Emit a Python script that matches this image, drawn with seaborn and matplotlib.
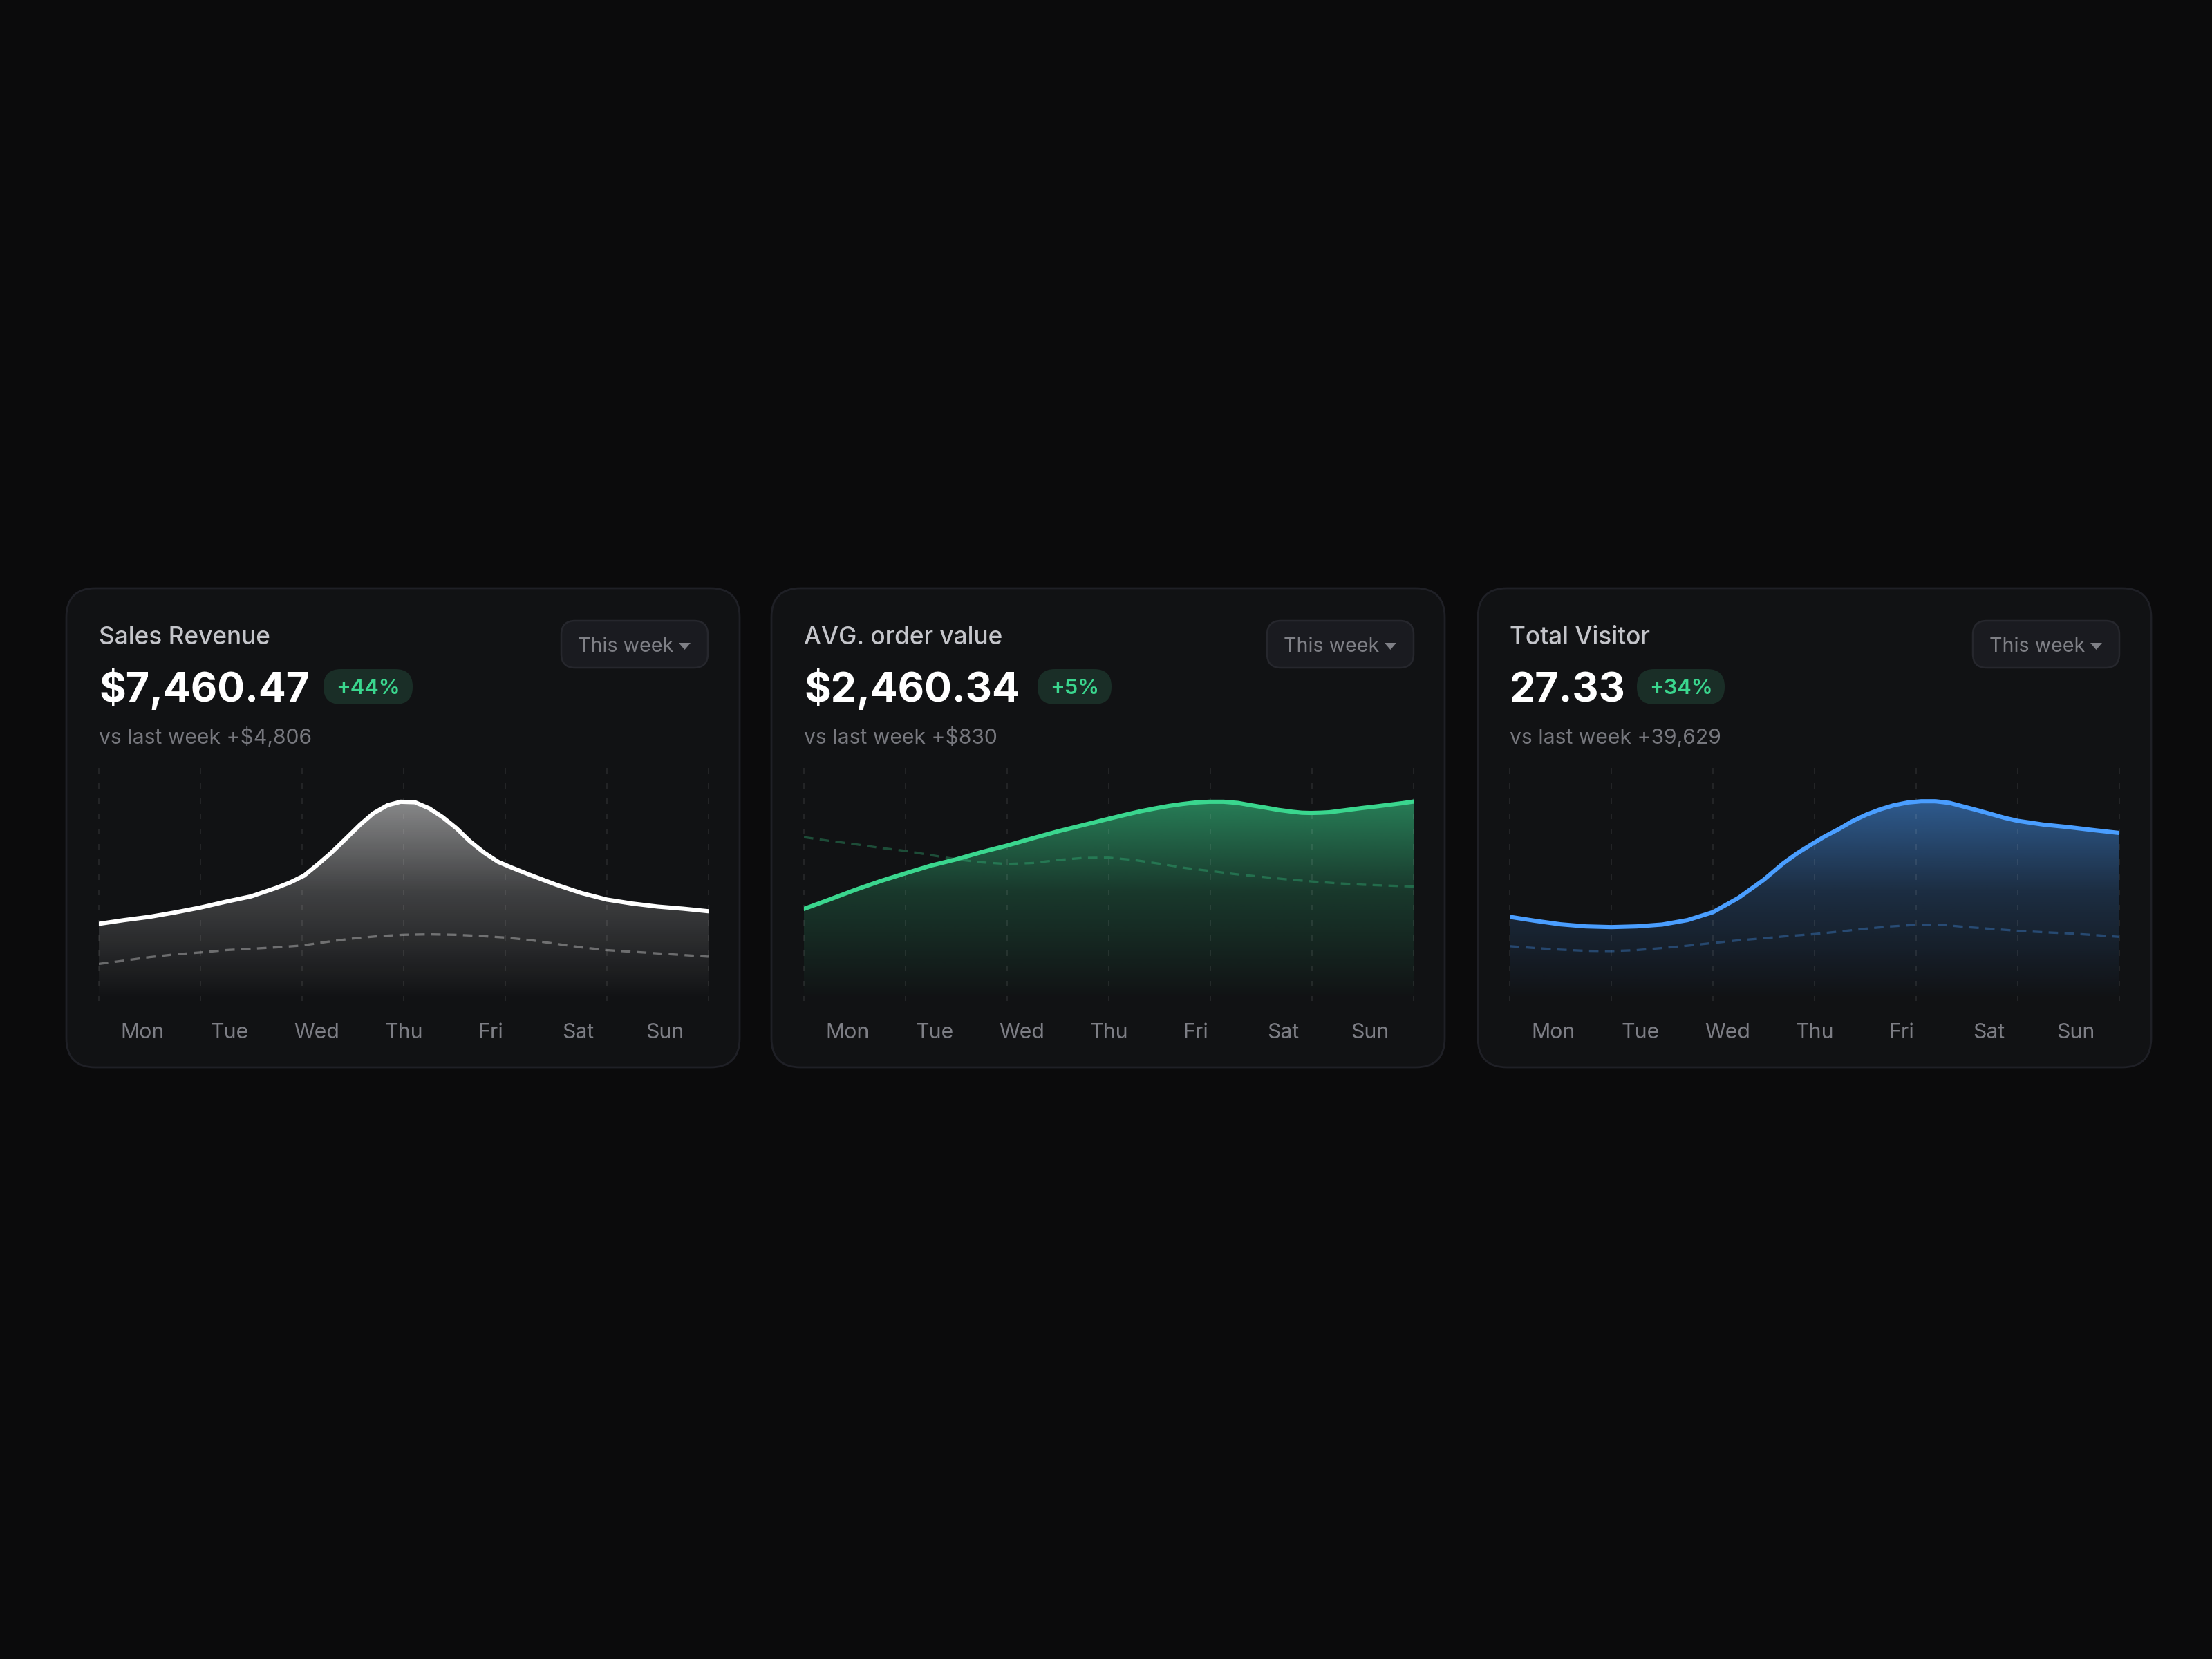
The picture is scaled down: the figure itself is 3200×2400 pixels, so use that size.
import matplotlib
matplotlib.use("Agg")
import matplotlib.pyplot as plt
from matplotlib.patches import FancyBboxPatch, Polygon
from matplotlib.colors import to_rgb
import seaborn as sns
import pandas as pd
import numpy as np

# ---------- data (chart height = 0..100, days = 0..6) ----------
days = ['Mon', 'Tue', 'Wed', 'Thu', 'Fri', 'Sat', 'Sun']
quarter_days = [0, .25, .5, .75, 1, 1.25, 1.5, 1.75, 2, 2.25, 2.5, 2.75, 3, 3.25, 3.5, 3.75,
                4, 4.25, 4.5, 4.75, 5, 5.25, 5.5, 5.75, 6]

titles = ['Sales Revenue', 'AVG. order value', 'Total Visitor']
amounts = ['$7,460.47', '$2,460.34', '27.33']
badges = ['+44%', '+5%', '+34%']
compare = ['vs last week +$4,806', 'vs last week +$830', 'vs last week +39,629']

# the solid curves were read closer together around their bends
sales_days = [0, .25, .5, .75, 1, 1.25, 1.5, 1.75, 1.88, 2.02, 2.16, 2.29, 2.43, 2.57, 2.70, 2.84,
              2.97, 3.11, 3.25, 3.38, 3.52, 3.65, 3.79, 3.93, 4.06, 4.25, 4.5, 4.75, 5, 5.25, 5.5, 5.75, 6]
sales_now = [33.1, 34.7, 36.1, 38.0, 40.1, 42.6, 44.9, 48.6, 50.8, 53.8, 58.8, 63.7, 69.6, 75.6, 80.5, 84.0,
             85.5, 85.3, 82.7, 79.0, 74.1, 68.6, 63.7, 59.7, 57.3, 54.0, 49.9, 46.3, 43.5, 41.8, 40.5, 39.6, 38.5]
sales_prev = [15.9, 17.3, 18.8, 20.0, 20.8, 21.8, 22.4, 23.0, 23.8, 25.4, 26.8, 27.8, 28.4,
              28.6, 28.4, 27.9, 27.2, 26.1, 24.5, 23.0, 21.8, 21.1, 20.4, 19.7, 19.0]

order_days = [0, .25, .5, .75, 1, 1.25, 1.5, 1.75, 2, 2.25, 2.5, 2.75, 3, 3.18, 3.31, 3.45, 3.59, 3.72,
              3.86, 3.99, 4.13, 4.27, 4.40, 4.54, 4.67, 4.81, 4.90, 4.99, 5.08, 5.17, 5.35, 5.49, 5.63, 5.76, 5.89, 6]
order_now = [39.5, 43.5, 47.6, 51.4, 54.8, 58.1, 60.8, 63.9, 66.7, 69.8, 72.8, 75.5, 78.2, 80.1, 81.4, 82.6, 83.7, 84.5,
             85.2, 85.5, 85.5, 85.0, 84.0, 83.0, 82.0, 81.2, 80.8, 80.7, 80.8, 81.0, 82.0, 82.8, 83.5, 84.2, 84.9, 85.6]
order_prev = [70.3, 68.7, 67.3, 65.7, 64.4, 62.6, 60.8, 59.5, 58.8, 59.2, 60.5, 61.4, 61.5,
              60.5, 58.9, 57.1, 55.8, 54.4, 53.3, 52.2, 51.3, 50.5, 49.9, 49.5, 49.1]

visit_days = [0, .25, .5, .75, 1, 1.25, 1.5, 1.75, 2, 2.25, 2.5, 2.69, 2.83, 2.97, 3.10, 3.24, 3.37, 3.51, 3.65,
              3.78, 3.92, 4.05, 4.19, 4.33, 4.46, 4.60, 4.74, 4.87, 5, 5.25, 5.5, 5.75, 6]
visit_now = [36.1, 34.4, 32.9, 32.0, 31.7, 32.0, 32.8, 34.7, 38.1, 44.2, 52.0, 59.0, 63.4, 67.2, 70.6, 73.8, 77.1, 80.0, 82.3,
             84.0, 85.2, 85.7, 85.7, 85.0, 83.5, 81.9, 80.2, 78.6, 77.3, 75.7, 74.6, 73.3, 72.1]
visit_prev = [23.5, 22.7, 22.0, 21.5, 21.4, 21.8, 22.7, 23.7, 24.9, 26.0, 26.9, 27.9, 28.7,
              29.8, 31.0, 32.0, 32.7, 32.7, 31.7, 30.9, 30.1, 29.5, 29.0, 28.3, 27.5]

now_days = [sales_days, order_days, visit_days]
now_series = [sales_now, order_now, visit_now]
prev_series = [sales_prev, order_prev, visit_prev]
colors = ['#ffffff', '#3ad68e', '#4a9eff']
prev_alpha = [0.33, 0.30, 0.32]
top_alpha = [0.5, 0.55, 0.52]

# ---------- style ----------
PAGE = '#0b0b0c'
CARD = '#111214'
sns.set_theme(style='dark', rc={'axes.facecolor': 'none', 'figure.facecolor': PAGE})
plt.rcParams['font.family'] = ['Inter', 'DejaVu Sans']

fig = plt.figure(figsize=(16, 12), dpi=200)

# whole-figure layer in pixels for the card furniture
bg = fig.add_axes([0, 0, 1, 1], zorder=0)
bg.set_xlim(0, 3200)
bg.set_ylim(2400, 0)
bg.axis('off')

card_left = [96, 1116, 2138]
card_w = 974
plot_left = [143, 1163, 2184]
plot_w = 882
button_left = [812, 1833, 2854]
badge_box = [(468, 597), (1501, 1608), (2368, 2495)]


def plot_card(i):
    x0 = card_left[i]
    bg.add_patch(FancyBboxPatch((x0, 851), card_w, 693, boxstyle='round,pad=0,rounding_size=42',
                                fc=CARD, ec='#1f2026', lw=1.0))
    px = plot_left[i]
    bg.text(px, 932, titles[i], color='#c4c5ca', fontsize=12.7, fontweight=500, va='baseline')
    bg.text(px, 1015, amounts[i], color='#ffffff', fontsize=21.3, fontweight='bold', va='baseline')
    bg.text(px, 1076, compare[i], color='#77787e', fontsize=10.85, va='baseline')

    # badge
    bx0, bx1 = badge_box[i]
    bg.add_patch(FancyBboxPatch((bx0, 968), bx1 - bx0, 51, boxstyle='round,pad=0,rounding_size=25',
                                fc='#1a2e27', ec='none'))
    bg.text((bx0 + bx1) / 2, 1004, badges[i], color=colors[1], fontsize=11.1, fontweight=600,
            ha='center', va='baseline')

    # dropdown
    b0 = button_left[i]
    bg.add_patch(FancyBboxPatch((b0, 898), 212, 68, boxstyle='round,pad=0,rounding_size=20',
                                fc='#1a1b20', ec='#26272d', lw=0.9))
    bg.text(b0 + 24, 943, 'This week', color='#7f8086', fontsize=10.3, va='baseline')
    bg.add_patch(Polygon([(b0 + 170, 930), (b0 + 187, 930), (b0 + 178.5, 940)], fc='#7f8086', ec='none'))

    # chart
    ax = fig.add_axes([px / 3200, 1 - 1448 / 2400, plot_w / 3200, 337 / 2400], zorder=1)
    now = np.array(now_series[i])
    df_now = pd.DataFrame({'day': now_days[i], 'value': now})
    df_prev = pd.DataFrame({'day': quarter_days, 'value': prev_series[i]})

    # gradient under the curve, clipped to the area
    grad = np.ones((256, 1, 4))
    grad[:, :, :3] = to_rgb(colors[i])
    grad[:, 0, 3] = np.interp(np.linspace(0, 1, 256), [0, 0.45, 1], [top_alpha[i], 0.2, 0])
    area = ax.fill_between(now_days[i], now, 0, facecolor='none', edgecolor='none')
    im = ax.imshow(grad, extent=(0, 6, 0, now.max()), aspect='auto', origin='upper', zorder=1)
    im.set_clip_path(area.get_paths()[0], transform=ax.transData)

    # dashed day guides, dash pattern starts at the top
    for d in range(7):
        ax.axvline(d, ymin=1, ymax=0, color='#ffffff', alpha=0.08, lw=0.72, linestyle=(0, (4, 7)),
                   clip_on=False, zorder=2)

    sns.lineplot(data=df_prev, x='day', y='value', ax=ax, color=colors[i], alpha=prev_alpha[i], lw=1.2,
                 linestyle=(0, (4.1, 2.8)), zorder=3, errorbar=None)
    sns.lineplot(data=df_now, x='day', y='value', ax=ax, color=colors[i], lw=2.2, zorder=4, errorbar=None,
                 solid_joinstyle='round')

    ax.set_xlim(0, 6)
    ax.set_ylim(0, 100)
    ax.set_xlabel('')
    ax.set_ylabel('')
    ax.set_yticks([])
    # labels sit in seven equal bands, not on the guides
    ax.set_xticks((np.arange(7) + 0.5) * 6 / 7, days)
    ax.tick_params(axis='x', length=0, pad=11.5, labelsize=10.9, labelcolor='#7d7e85')
    ax.grid(False)
    sns.despine(ax=ax, left=True, bottom=True)


for i in range(3):
    plot_card(i)

plt.savefig('out.png', dpi=200, facecolor=PAGE)
